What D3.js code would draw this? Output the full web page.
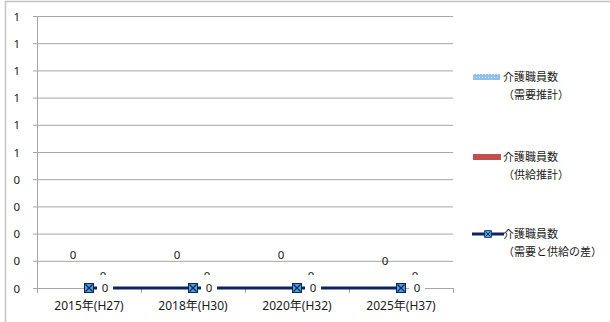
<!DOCTYPE html>
<html>
<head>
<meta charset="utf-8">
<style>
    body { margin: 0; background: #fff; }
    svg text { font-family: "Noto Sans", "Noto Sans CJK JP", sans-serif; font-size: 11.5px; fill: #1a1a1a; }
    svg text.leg { font-family: "Noto Sans CJK JP", sans-serif; font-size: 11px; }
    svg .xlab text { font-size: 12px; }
</style>
<script src="https://cdnjs.cloudflare.com/ajax/libs/d3/7.8.5/d3.min.js"></script>
</head>
<body>
<svg id="chart" width="610" height="322"></svg>
<script>
    // chart data
    var categories = ["2015年(H27)", "2018年(H30)", "2020年(H32)", "2025年(H37)"];
    var demand = [0, 0, 0, 0];      // 介護職員数（需要推計）
    var supply = [0, 0, 0, 0];      // 介護職員数（供給推計）
    var gap = [0, 0, 0, 0];         // 介護職員数（需要と供給の差）
    var yTicks = [0, 0.1, 0.2, 0.3, 0.4, 0.5, 0.6, 0.7, 0.8, 0.9, 1.0];
    var yTickLabels = ["0", "0", "0", "0", "0", "1", "1", "1", "1", "1", "1"];
    var legendNames = [
        ["介護職員数", "（需要推計）"],
        ["介護職員数", "（供給推計）"],
        ["介護職員数", "（需要と供給の差）"]
    ];

    var svg = d3.select("#chart");
    var plotL = 37, plotR = 453, plotT = 16, plotB = 288;
    var navy = "#0b2460";

    var x = d3.scaleBand().domain(categories).range([plotL, plotR]);
    var y = d3.scaleLinear().domain([0, 1]).range([plotB, plotT]);
    var cx = function (i) { return x(categories[i]) + x.bandwidth() / 2; };

    // outer frame
    svg.append("rect").attr("x", 5.5).attr("y", 1.5).attr("width", 700).attr("height", 400)
        .attr("fill", "none").attr("stroke", "#c4c4c4").attr("stroke-width", 1.5);

    // pattern for the demand series
    var pat = svg.append("defs").append("pattern").attr("id", "dots")
        .attr("width", 3).attr("height", 3).attr("patternUnits", "userSpaceOnUse");
    pat.append("rect").attr("width", 3).attr("height", 3).attr("fill", "#8ec0ea");
    pat.append("rect").attr("width", 1).attr("height", 1).attr("fill", "#d9ecfa");

    // gridlines + y axis
    var yAxis = d3.axisLeft(y).tickValues(yTicks).tickSize(-(plotR - plotL))
        .tickFormat(function (d, i) { return yTickLabels[i]; });
    var gy = svg.append("g").attr("transform", "translate(" + plotL + ",0)").call(yAxis);
    gy.attr("font-family", null).attr("font-size", null);
    gy.select(".domain").remove();
    gy.selectAll(".tick line").attr("x1", -4).attr("stroke", "#a6a6a6");
    gy.selectAll(".tick text").attr("x", -17).attr("dy", "0.35em");
    svg.append("line").attr("x1", plotL + 0.5).attr("x2", plotL + 0.5).attr("y1", plotT).attr("y2", plotB)
        .attr("stroke", "#a6a6a6");

    // x axis
    var gx = svg.append("g").attr("class", "xlab").attr("transform", "translate(0," + plotB + ")")
        .call(d3.axisBottom(x).tickSize(0).tickPadding(13));
    gx.attr("font-family", null).attr("font-size", null);
    gx.select(".domain").attr("stroke", "#a6a6a6");
    var bounds = x.domain().map(function (c) { return x(c); }).concat([plotR]);
    svg.selectAll(".xtick").data(bounds).enter().append("line")
        .attr("x1", function (d) { return Math.round(d) + 0.5; }).attr("x2", function (d) { return Math.round(d) + 0.5; })
        .attr("y1", plotB).attr("y2", plotB + 5).attr("stroke", "#a6a6a6");

    // bars (all zero)
    var x1 = d3.scaleBand().domain([0, 1]).range([0, x.bandwidth()]).paddingOuter(0.6).paddingInner(0.1);
    [demand, supply].forEach(function (series, s) {
        svg.selectAll(".bar" + s).data(series).enter().append("rect")
            .attr("x", function (d, i) { return x(categories[i]) + x1(s); })
            .attr("width", x1.bandwidth())
            .attr("y", function (d) { return y(d); })
            .attr("height", function (d) { return y(0) - y(d); })
            .attr("fill", s === 0 ? "url(#dots)" : "#c0504d");
    });

    // bar labels
    svg.selectAll(".dl").data(demand).enter().append("text")
        .attr("x", function (d, i) { return cx(i) - 16; })
        .attr("y", function (d, i) { return y(d) - (i === 3 ? 23 : 29); })
        .attr("text-anchor", "middle").text(function (d) { return d; });
    svg.selectAll(".sl").data(supply).enter().append("text")
        .attr("x", function (d, i) { return cx(i) + 14; })
        .attr("y", function (d) { return y(d) - 8; })
        .attr("text-anchor", "middle").text(function (d) { return d; });

    // difference line
    var line = d3.line().x(function (d, i) { return cx(i); }).y(function (d) { return y(d); });
    svg.append("path").datum(gap).attr("d", line).attr("fill", "none")
        .attr("stroke", navy).attr("stroke-width", 3);

    // line labels with white boxes
    var lab = svg.selectAll(".ll").data(gap).enter().append("g")
        .attr("transform", function (d, i) { return "translate(" + (cx(i) + 16) + "," + y(d) + ")"; });
    lab.append("rect").attr("x", -8).attr("y", -13).attr("width", 16).attr("height", 26).attr("fill", "#fff");
    lab.append("text").attr("text-anchor", "middle").attr("dy", "0.38em").text(function (d) { return d; });

    function marker(g) {
        g.append("rect").attr("x", -4.5).attr("y", -4.5).attr("width", 9).attr("height", 9)
            .attr("fill", "#4aa3d4").attr("stroke", navy).attr("stroke-width", 1);
        g.append("path").attr("d", "M-3.5,-3.5L3.5,3.5M3.5,-3.5L-3.5,3.5").attr("stroke", navy).attr("stroke-width", 1.2);
    }
    svg.selectAll(".mk").data(gap).enter().append("g")
        .attr("transform", function (d, i) { return "translate(" + cx(i) + "," + y(d) + ")"; })
        .each(function () { marker(d3.select(this)); });

    // legend
    var legY = [77, 157, 234];
    legendNames.forEach(function (names, k) {
        var g = svg.append("g").attr("transform", "translate(473," + legY[k] + ")");
        if (k === 0) g.append("rect").attr("x", 0).attr("y", -3).attr("width", 27).attr("height", 6).attr("fill", "url(#dots)");
        if (k === 1) g.append("rect").attr("x", 0).attr("y", -3).attr("width", 28).attr("height", 6).attr("fill", "#c0504d");
        if (k === 2) {
            g.append("line").attr("x1", -1).attr("x2", 31).attr("stroke", navy).attr("stroke-width", 3);
            var m = g.append("g").attr("transform", "translate(15,0) scale(0.75)");
            marker(m);
        }
        g.append("text").attr("class", "leg").attr("x", 30).attr("dy", "0.38em").text(names[0]);
        g.append("text").attr("class", "leg").attr("x", 30).attr("y", 18).attr("dy", "0.38em").text(names[1]);
    });
</script>
</body>
</html>
